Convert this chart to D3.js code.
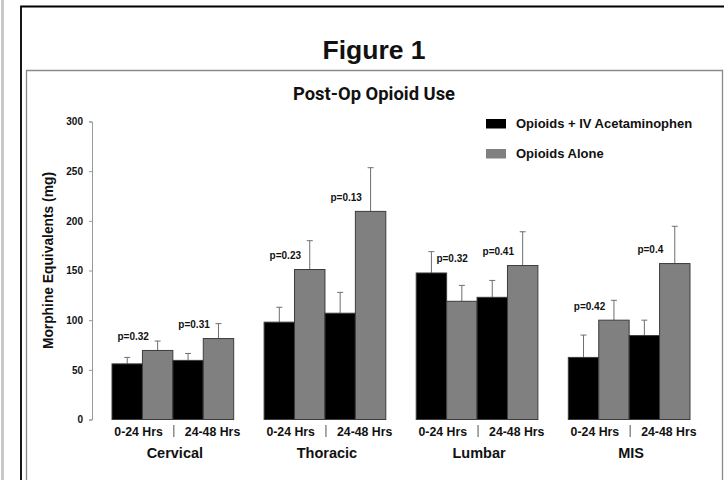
<!DOCTYPE html>
<html lang="en">
<head>
	<meta charset="utf-8">
	<title> Post-Op Opioid Use </title>
	<script src="https://d3js.org/d3.v7.min.js"></script>
	<style type="text/css">
		body{ margin: 0; background: #fff; }
		svg{ display: block; }
		text{ font-family: "Liberation Sans", Arial, sans-serif; font-weight: bold; fill: #111; }
	</style>
</head>

<body>
	<svg id="chart" width="724" height="480"></svg>

	<script type="text/javascript">

	// data
	var regions = ["Cervical", "Thoracic", "Lumbar", "MIS"]
	var periods = ["0-24 Hrs", "24-48 Hrs"]
	var seriesNames = ["Opioids + IV Acetaminophen", "Opioids Alone"]

	// means, per region, [0-24, 24-48]
	var withAcetaminophen = [[56, 59.5], [98, 107], [147.5, 123], [62.5, 84.5]]
	var alone = [[69.5, 81.5], [151, 209.5], [119, 155], [100, 157]]
	// upper error bar length
	var withAcetaminophenErr = [[6.5, 7], [15, 21], [21.5, 17], [22.5, 15.5]]
	var aloneErr = [[9.5, 15], [29, 44], [16, 34], [20, 37.5]]
	var pValues = [["p=0.32", "p=0.31"], ["p=0.23", "p=0.13"], ["p=0.32", "p=0.41"], ["p=0.42", "p=0.4"]]
	var yTicks = [0, 50, 100, 150, 200, 250, 300]

	var colors = ["#000000", "#808080"]

	// flatten to bar records
	var bars = []
	regions.forEach((r, i) => {
		periods.forEach((p, j) => {
			bars.push({region: r, period: p, series: 0, value: withAcetaminophen[i][j], err: withAcetaminophenErr[i][j]})
			bars.push({region: r, period: p, series: 1, value: alone[i][j], err: aloneErr[i][j]})
		})
	})

	var svg = d3.select("#chart")

	// frame
	svg.append("rect").attr("x", 1).attr("y", 0).attr("width", 3).attr("height", 480).attr("fill", "#c8c8c8")
	svg.append("path")
		.attr("d", "M21,490 L21,6.5 L730,6.5")
		.attr("fill", "none").attr("stroke", "#000").attr("stroke-width", 1.8)
	svg.append("path")
		.attr("d", "M26.5,490 L26.5,70.5 L722.5,70.5 L722.5,490")
		.attr("fill", "none").attr("stroke", "#8a8a8a").attr("stroke-width", 1.3)

	svg.append("text")
		.attr("x", 374).attr("y", 59)
		.attr("text-anchor", "middle")
		.style("font-size", "26.5px")
		.text("Figure 1")

	svg.append("text")
		.attr("x", 374).attr("y", 100)
		.attr("text-anchor", "middle")
		.attr("textLength", 162).attr("lengthAdjust", "spacingAndGlyphs")
		.style("font-family", "'Liberation Sans Narrow', Roboto, sans-serif")
		.style("font-size", "18px")
		.text("Post-Op Opioid Use")

	// scales
	var y = d3.scaleLinear().domain([0, 300]).range([419.5, 121.5])
	var x0 = d3.scaleBand().domain(regions).range([96.8, 705.2]).paddingInner(0.2).paddingOuter(0.1)
	var x1 = d3.scaleBand().domain(periods).range([0, x0.bandwidth()])
	var x2 = d3.scaleBand().domain([0, 1]).range([0, x1.bandwidth()])

	var barX = d => x0(d.region) + x1(d.period) + x2(d.series)

	// y axis
	var yAxis = svg.append("g")
		.attr("transform", "translate(92,0)")
		.call(d3.axisLeft(y).tickValues(yTicks).tickSize(3).tickPadding(6))
	yAxis.select(".domain").attr("stroke", "#999")
	yAxis.selectAll(".tick line").attr("stroke", "#999")
	yAxis.selectAll(".tick text").style("font-size", "10px").attr("fill", "#111")
		.style("font-family", "'Liberation Sans', Arial, sans-serif").style("font-weight", "bold")

	svg.append("text")
		.attr("transform", "translate(53," + y(160) + ") rotate(-90)")
		.attr("text-anchor", "middle")
		.style("font-size", "13.8px")
		.text("Morphine Equivalents (mg)")

	// error bars (behind bars)
	var eb = svg.append("g").attr("stroke", "#6e6e6e").attr("stroke-width", 1)
	eb.selectAll("line.v")
		.data(bars).join("line").attr("class", "v")
		.attr("x1", d => barX(d) + x2.bandwidth() / 2)
		.attr("x2", d => barX(d) + x2.bandwidth() / 2)
		.attr("y1", d => y(d.value))
		.attr("y2", d => y(d.value + d.err))
	eb.selectAll("line.c")
		.data(bars).join("line").attr("class", "c")
		.attr("x1", d => barX(d) + x2.bandwidth() / 2 - 3)
		.attr("x2", d => barX(d) + x2.bandwidth() / 2 + 3)
		.attr("y1", d => y(d.value + d.err))
		.attr("y2", d => y(d.value + d.err))

	// bars
	svg.append("g")
		.selectAll("rect")
		.data(bars)
		.join("rect")
		.attr("x", d => barX(d))
		.attr("y", d => y(d.value))
		.attr("width", x2.bandwidth())
		.attr("height", d => y(0) - y(d.value))
		.attr("fill", d => colors[d.series])
		.attr("stroke", "#3c3c3c")
		.attr("stroke-width", 1)

	// p-values
	var pData = []
	regions.forEach((r, i) => {
		periods.forEach((p, j) => {
			pData.push({region: r, period: p, label: pValues[i][j], a: withAcetaminophen[i][j], b: alone[i][j]})
		})
	})
	svg.append("g")
		.selectAll("text")
		.data(pData)
		.join("text")
		.attr("x", d => {
			var cx = x0(d.region) + x1(d.period) + x2.bandwidth() / 2
			return d.b >= d.a ? cx + 6 : cx + 5
		})
		.attr("y", d => y(Math.max(d.a, d.b)) - 10.5)
		.attr("text-anchor", d => d.b >= d.a ? "middle" : "start")
		.style("font-size", "10px")
		.attr("fill", "#222")
		.text(d => d.label)

	// x labels
	var grp = svg.append("g").selectAll("g").data(regions).join("g")
		.attr("transform", d => "translate(" + (x0(d) + x0.bandwidth() / 2) + ",0)")
	grp.append("text")
		.attr("x", -10).attr("y", 435.5)
		.attr("text-anchor", "end")
		.style("font-size", "12.3px")
		.text(periods[0])
	grp.append("text")
		.attr("x", 12).attr("y", 435.5)
		.attr("text-anchor", "start")
		.style("font-size", "12.3px")
		.text(periods[1])
	grp.append("line")
		.attr("x1", 1).attr("x2", 1).attr("y1", 425).attr("y2", 437)
		.attr("stroke", "#555").attr("stroke-width", 1)
	grp.append("text")
		.attr("x", 2).attr("y", 458)
		.attr("text-anchor", "middle")
		.style("font-size", "14.5px")
		.text(d => d)

	// legend
	var leg = svg.append("g").selectAll("g").data(seriesNames).join("g")
		.attr("transform", (d, i) => "translate(486," + (119 + i * 30) + ")")
	leg.append("rect")
		.attr("width", 20).attr("height", 9.5)
		.attr("fill", (d, i) => colors[i])
	leg.append("text")
		.attr("x", 30).attr("y", 9.3)
		.style("font-size", "13px")
		.text(d => d)

	</script>
</body>
</html>
